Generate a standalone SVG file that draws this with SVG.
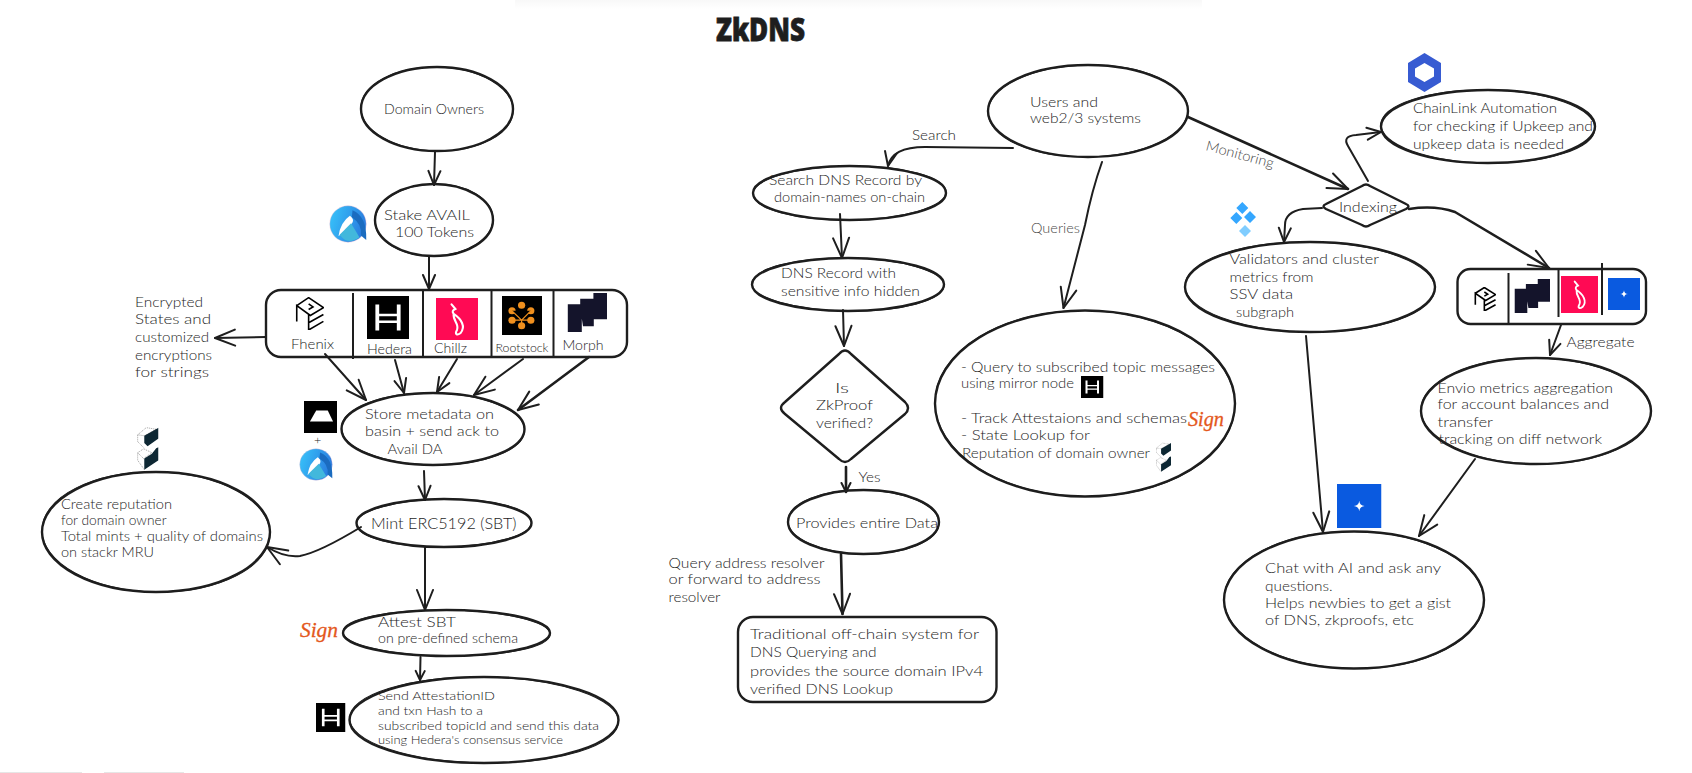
<svg xmlns="http://www.w3.org/2000/svg" width="1692" height="773" viewBox="0 0 1692 773">
<style>
text{font-family:"Lato","Noto Sans",sans-serif;font-weight:300;fill:#1e1e1e}
.title{font-family:"Open Sans","Liberation Sans",sans-serif;font-weight:800;font-size:32px;fill:#1e1e1e;stroke:#1e1e1e;stroke-width:.8}
.f11{font-size:11px}.f12{font-size:12.5px}.f13{font-size:13px}.f14{font-size:14px}.f15{font-size:15px}
.mut{fill:#4a4a4a}
.sign{font-family:"Liberation Serif",serif;font-style:italic;font-weight:400;fill:#e4581c;stroke:#e4581c;stroke-width:.3}
.s{fill:none;stroke:#1e1e1e;stroke-width:2.4;stroke-linejoin:round}
.r{fill:none;stroke:#1e1e1e;stroke-width:1}
.div{fill:none;stroke:#1e1e1e;stroke-width:2}
.c{fill:none;stroke:#1e1e1e;stroke-width:2;stroke-linecap:round;stroke-linejoin:round}
.cb{stroke-width:2.6}
.ah{fill:none;stroke:#1e1e1e;stroke-width:2;stroke-linecap:round;stroke-linejoin:round}
</style>
<defs>
<linearGradient id="shade" x1="0" y1="0" x2="0" y2="1"><stop offset="0" stop-color="#f8f8f8"/><stop offset="1" stop-color="#ffffff"/></linearGradient>
<linearGradient id="availg" x1="0" y1="0" x2="1" y2="0.3"><stop offset="0" stop-color="#38c6fb"/><stop offset="1" stop-color="#2a7fe0"/></linearGradient>
<marker id="as" markerUnits="userSpaceOnUse" viewBox="-11 -6 12 12" markerWidth="12" markerHeight="12" refX="0" refY="0" orient="auto"><path class="ah" d="M-9-4.5L0 0L-9 4.500"/></marker>
<marker id="am" markerUnits="userSpaceOnUse" viewBox="-16 -8 17 16" markerWidth="17" markerHeight="16" refX="0" refY="0" orient="auto"><path class="ah" d="M-14-6L0 0L-14 6"/></marker>
<marker id="al" markerUnits="userSpaceOnUse" viewBox="-22 -10 23 20" markerWidth="23" markerHeight="20" refX="0" refY="0" orient="auto"><path class="ah" d="M-20-8L0 0L-20 8"/></marker>
<symbol id="hedera" viewBox="0 0 100 100" preserveAspectRatio="none"><rect width="100" height="100" fill="#000"/><path fill="#fff" d="M20 20h9v60h-9zM71 20h9v60h-9zM29 41h42v6H29zM29 57h42v6H29z"/></symbol>
<symbol id="fhenix" viewBox="0 0 100 100" preserveAspectRatio="none"><path fill="none" stroke="#000" stroke-width="1.6" vector-effect="non-scaling-stroke" d="M6 26L47 2L98 32L53 56L6 26V74M47 21L62 30L47 38M47 52V100L98 74M47 78L98 53"/></symbol>
<symbol id="chillz" viewBox="0 0 100 100" preserveAspectRatio="none"><rect width="100" height="100" fill="#ff0a54"/><path fill="none" stroke="#fff" stroke-width="5" stroke-linecap="round" d="M37 15L46 26Q36 30 42 38C60 50 72 68 58 84C50 90 44 86 50 76C56 62 40 55 42 38"/></symbol>
<symbol id="rootstock" viewBox="0 0 100 100" preserveAspectRatio="none"><rect width="100" height="100" fill="#000"/><g fill="#f0901e"><circle cx="49" cy="24" r="9"/><circle cx="25" cy="38" r="9"/><circle cx="72" cy="38" r="9"/><circle cx="25" cy="62" r="9"/><circle cx="72" cy="62" r="9"/><circle cx="49" cy="76" r="9"/><path d="M38 40H60L49 62z"/></g><path stroke="#f0901e" stroke-width="3" d="M25 38L49 62L72 38M25 62H72M49 62V76"/></symbol>
<symbol id="morph" viewBox="0 0 100 100" preserveAspectRatio="none"><path fill="#14142b" d="M2 29H37V100H2zM33 15H67V85H40L33 40zM66 0H100V67H66z"/></symbol>
<symbol id="spark" viewBox="0 0 100 100" preserveAspectRatio="none"><rect width="100" height="100" fill="#0a5ae0"/><path fill="#fff" d="M50 38Q51 49 62 50Q51 51 50 62Q49 51 38 50Q49 49 50 38z"/></symbol>
<symbol id="basin" viewBox="0 0 100 100" preserveAspectRatio="none"><rect width="100" height="100" fill="#000"/><path fill="#fff" d="M18 64L37 30H72L88 64z"/></symbol>
<symbol id="avail" viewBox="0 0 100 100" preserveAspectRatio="none"><circle cx="50" cy="50" r="48" fill="url(#availg)" stroke="#f4bcd0" stroke-width="1"/><path fill="#fff" d="M55 28Q30 45 25 82Q40 70 58 52Q70 38 55 28z"/><path fill="#1b6cc0" d="M62 14Q100 30 98 92L84 80Q88 50 60 32z"/><path fill="#42b8dc" d="M28 78L58 48L80 85Q50 108 28 78z"/></symbol>
<symbol id="stackr" viewBox="0 0 65 135" preserveAspectRatio="none"><path fill="#0d2733" d="M22 30L65 5V38L32 62L22 52zM58 68L65 65V105L22 134V100L45 85z"/><path fill="none" stroke="#333" stroke-width="1.4" stroke-dasharray="3 3" d="M2 27L28 5L58 10L22 30L2 27M2 27V48L22 68M2 82L20 70L45 82L20 100L2 82V105L22 134"/></symbol>
</defs>
<rect width="1692" height="773" fill="#fff"/>
<rect x="515" y="0" width="687" height="9" fill="url(#shade)"/>
<rect x="0" y="772" width="82" height="1" fill="#e6e6e6"/><rect x="104" y="772" width="80" height="1" fill="#e6e6e6"/>
<text id="title" class="title" x="716" y="41" textLength="89" lengthAdjust="spacingAndGlyphs">ZkDNS</text>

<g id="connectors">
<path class="c" marker-end="url(#am)" d="M435 152L434 185"/>
<path class="c" marker-end="url(#am)" d="M429 257L429 289"/>
<path class="c" marker-end="url(#al)" d="M266 337L215 338"/>
<path class="c" marker-end="url(#al)" d="M325 354L366 400"/>
<path class="c" marker-end="url(#am)" d="M395 360L404 393"/>
<path class="c" marker-end="url(#am)" d="M457 359L437 392"/>
<path class="c" marker-end="url(#al)" d="M523 359L474 395"/>
<path class="c cb" marker-end="url(#al)" d="M589 357L518 410"/>
<path class="c" marker-end="url(#am)" d="M424 471L425 500"/>
<path class="c" marker-end="url(#al)" d="M361 527Q320 552 300 556Q285 558 267 547"/>
<path class="c" marker-end="url(#al)" d="M425 547L425 610"/>
<path class="c" marker-end="url(#as)" d="M420.500 657L420 680"/>
<path class="c" marker-end="url(#am)" d="M1013 148L925 147Q892 147 888 166"/>
<path class="c" marker-end="url(#al)" d="M840 214L842 258"/>
<path class="c" marker-end="url(#al)" d="M843 310L844 346"/>
<path class="c cb" marker-end="url(#as)" d="M846 467L846 492"/>
<path class="c cb" marker-end="url(#al)" d="M841 554L842.500 614"/>
<path class="c" marker-end="url(#al)" d="M1102 162Q1092 190 1085 225L1063.500 308"/>
<path class="c cb" marker-end="url(#al)" d="M1188 117L1348 189"/>
<path class="c" marker-end="url(#am)" d="M1368 181L1348 146Q1342 136 1356 135L1381 132"/>
<path class="c" marker-end="url(#am)" d="M1322 208L1303 209Q1285 212 1285 225L1284 242"/>
<path class="c cb" marker-end="url(#al)" d="M1409 209Q1435 205 1455 212L1549 268"/>
<path class="c" marker-end="url(#am)" d="M1561 325L1550 355"/>
<path class="c" marker-end="url(#al)" d="M1306 336L1323 532"/>
<path class="c" marker-end="url(#al)" d="M1475 459L1419 536"/>
</g>
<text class="f14" x="912" y="140" textLength="44" lengthAdjust="spacingAndGlyphs">Search</text>
<text class="f14 mut" x="1031" y="233" textLength="49" lengthAdjust="spacingAndGlyphs">Queries</text>
<text class="f14 mut" x="1205" y="150" textLength="70" lengthAdjust="spacingAndGlyphs" transform="rotate(15 1205 150)">Monitoring</text>
<text class="f14" x="858.500" y="482" textLength="22" lengthAdjust="spacingAndGlyphs">Yes</text>
<text class="f14" x="1566.500" y="347" textLength="68" lengthAdjust="spacingAndGlyphs">Aggregate</text>
<g id="label-query-resolver" class="f14">
<text x="668.500" y="568" textLength="156" lengthAdjust="spacingAndGlyphs">Query address resolver</text>
<text x="668.500" y="584" textLength="152" lengthAdjust="spacingAndGlyphs">or forward to address</text>
<text x="668.500" y="602" textLength="52" lengthAdjust="spacingAndGlyphs">resolver</text>
</g>
<g id="label-encrypted" class="f14">
<text x="135" y="307" textLength="68" lengthAdjust="spacingAndGlyphs">Encrypted</text>
<text x="135" y="324" textLength="76" lengthAdjust="spacingAndGlyphs">States and</text>
<text x="135" y="342" textLength="74" lengthAdjust="spacingAndGlyphs">customized</text>
<text x="135" y="360" textLength="77" lengthAdjust="spacingAndGlyphs">encryptions</text>
<text x="135" y="377" textLength="74" lengthAdjust="spacingAndGlyphs">for strings</text>
</g>

<g id="n-domain"><ellipse class="s" cx="437" cy="109" rx="76" ry="42"/><ellipse class="r" cx="437" cy="109" rx="76" ry="42" transform="rotate(1.5 437 109)"/>
<text class="f14" x="384" y="114" textLength="100" lengthAdjust="spacingAndGlyphs">Domain Owners</text></g>

<g id="n-stake"><ellipse class="s" cx="434" cy="220" rx="59" ry="36"/><ellipse class="r" cx="434" cy="220" rx="59" ry="36" transform="rotate(-2 434 220)"/>
<text class="f14" x="384" y="220" textLength="86" lengthAdjust="spacingAndGlyphs">Stake AVAIL</text>
<text class="f14" x="395" y="237" textLength="79" lengthAdjust="spacingAndGlyphs">100 Tokens</text>
<use href="#avail" x="329" y="205" width="38" height="38"/></g>

<g id="n-chains"><rect class="s" x="266" y="290" width="361" height="67" rx="15"/>
<path class="div" d="M353 293V359M423 290V357M491.500 290V357M553.500 290V357"/>
<use href="#fhenix" x="295" y="297" width="29" height="33"/>
<use href="#hedera" x="367" y="296" width="42" height="43"/>
<use href="#chillz" x="436" y="298" width="42" height="42"/>
<use href="#rootstock" x="502" y="296" width="40" height="39"/>
<use href="#morph" x="567" y="293" width="40" height="39"/>
<text class="f14" x="291" y="349" textLength="43" lengthAdjust="spacingAndGlyphs">Fhenix</text>
<text class="f14" x="367" y="354" textLength="45" lengthAdjust="spacingAndGlyphs">Hedera</text>
<text class="f14" x="434" y="353" textLength="33" lengthAdjust="spacingAndGlyphs">Chillz</text>
<text class="f11" x="495.500" y="352" textLength="53" lengthAdjust="spacingAndGlyphs">Rootstock</text>
<text class="f14" x="562.500" y="350" textLength="41" lengthAdjust="spacingAndGlyphs">Morph</text></g>

<g id="n-store"><ellipse class="s" cx="433" cy="429" rx="91.500" ry="36"/><ellipse class="r" cx="433" cy="429" rx="91.500" ry="36" transform="rotate(1 433 429)"/>
<text class="f14" x="365" y="419" textLength="129" lengthAdjust="spacingAndGlyphs">Store metadata on</text>
<text class="f14" x="365" y="436" textLength="134" lengthAdjust="spacingAndGlyphs">basin + send ack to</text>
<text class="f14" x="387.500" y="454" textLength="55" lengthAdjust="spacingAndGlyphs">Avail DA</text>
<use href="#basin" x="304" y="401" width="33" height="32"/>
<text class="f12" x="314" y="444">+</text>
<use href="#avail" x="299" y="448" width="34" height="33"/></g>

<g id="n-reputation"><ellipse class="s" cx="156" cy="532" rx="114" ry="60"/><ellipse class="r" cx="156" cy="532" rx="114" ry="60" transform="rotate(1.2 156 532)"/>
<text class="f13" x="61" y="509" textLength="111" lengthAdjust="spacingAndGlyphs">Create reputation</text>
<text class="f13" x="61" y="525" textLength="105.500" lengthAdjust="spacingAndGlyphs">for domain owner</text>
<text class="f13" x="61" y="541" textLength="202" lengthAdjust="spacingAndGlyphs">Total mints + quality of domains</text>
<text class="f13" x="61" y="557" textLength="93" lengthAdjust="spacingAndGlyphs">on stackr MRU</text>
<use href="#stackr" x="137" y="426" width="21.500" height="44"/></g>

<g id="n-mint"><ellipse class="s" cx="444" cy="523" rx="87.500" ry="24"/><ellipse class="r" cx="444" cy="523" rx="87.500" ry="24" transform="rotate(-.8 444 523)"/>
<text class="f15" x="371" y="529" textLength="145.500" lengthAdjust="spacingAndGlyphs">Mint ERC5192 (SBT)</text></g>

<g id="n-attest"><ellipse class="s" cx="446.500" cy="633" rx="103.500" ry="23"/><ellipse class="r" cx="446.500" cy="633" rx="103.500" ry="23" transform="rotate(.8 446.500 633)"/>
<text class="f13" x="378" y="627" textLength="78" lengthAdjust="spacingAndGlyphs">Attest SBT</text>
<text class="f13" x="378" y="643" textLength="140" lengthAdjust="spacingAndGlyphs">on pre-defined schema</text>
<text class="sign" x="300" y="637" font-size="22" textLength="38" lengthAdjust="spacingAndGlyphs">Sign</text></g>

<g id="n-send"><ellipse class="s" cx="484" cy="720" rx="134.500" ry="43"/><ellipse class="r" cx="484" cy="720" rx="134.500" ry="43" transform="rotate(.8 484 720)"/>
<text class="f12" x="378" y="700" textLength="117" lengthAdjust="spacingAndGlyphs">Send AttestationID</text>
<text class="f12" x="378" y="715" textLength="105" lengthAdjust="spacingAndGlyphs">and txn Hash to a</text>
<text class="f12" x="378" y="730" textLength="221" lengthAdjust="spacingAndGlyphs">subscribed topicId and send this data</text>
<text class="f12" x="378" y="744" textLength="185" lengthAdjust="spacingAndGlyphs">using Hedera's consensus service</text>
<use href="#hedera" x="316" y="703" width="29.500" height="29"/></g>

<g id="n-users"><ellipse class="s" cx="1088" cy="111" rx="100" ry="46"/><ellipse class="r" cx="1088" cy="111" rx="100" ry="46" transform="rotate(-1 1088 111)"/>
<text class="f14" x="1030" y="107" textLength="68" lengthAdjust="spacingAndGlyphs">Users and</text>
<text class="f14" x="1030" y="123" textLength="111" lengthAdjust="spacingAndGlyphs">web2/3 systems</text></g>

<g id="n-search"><ellipse class="s" cx="849.500" cy="193" rx="96.500" ry="27"/><ellipse class="r" cx="849.500" cy="193" rx="96.500" ry="27" transform="rotate(-.8 849.500 193)"/>
<text class="f14" x="769" y="185" textLength="153" lengthAdjust="spacingAndGlyphs">Search DNS Record by</text>
<text class="f14" x="774" y="202" textLength="151" lengthAdjust="spacingAndGlyphs">domain-names on-chain</text></g>

<g id="n-record"><ellipse class="s" cx="848" cy="284.500" rx="96" ry="26.500"/><ellipse class="r" cx="848" cy="284.500" rx="96" ry="26.500" transform="rotate(.8 848 284.500)"/>
<text class="f14" x="781" y="278" textLength="115" lengthAdjust="spacingAndGlyphs">DNS Record with</text>
<text class="f14" x="781" y="296" textLength="139" lengthAdjust="spacingAndGlyphs">sensitive info hidden</text></g>

<g id="n-zkproof"><path class="s" d="M839 354Q845 347 851 354L905 402Q911 408 905 414L851 459Q845 465 839 459L785 414Q777 408 785 402Z"/>
<text class="f14" x="835" y="393" textLength="14" lengthAdjust="spacingAndGlyphs">Is</text>
<text class="f14" x="816" y="410" textLength="57" lengthAdjust="spacingAndGlyphs">ZkProof</text>
<text class="f14" x="816" y="428" textLength="57" lengthAdjust="spacingAndGlyphs">verified?</text></g>

<g id="n-provides"><ellipse class="s" cx="863.500" cy="522" rx="75.500" ry="32"/><ellipse class="r" cx="863.500" cy="522" rx="75.500" ry="32" transform="rotate(1.2 863.500 522)"/>
<text class="f14" x="796" y="528" textLength="142" lengthAdjust="spacingAndGlyphs">Provides entire Data</text></g>

<g id="n-traditional"><rect class="s" x="738" y="617" width="258.500" height="85" rx="15"/>
<text class="f14" x="750" y="639" textLength="229" lengthAdjust="spacingAndGlyphs">Traditional off-chain system for</text>
<text class="f14" x="750" y="657" textLength="126.500" lengthAdjust="spacingAndGlyphs">DNS Querying and</text>
<text class="f14" x="750" y="676" textLength="233" lengthAdjust="spacingAndGlyphs">provides the source domain IPv4</text>
<text class="f14" x="750" y="694" textLength="143" lengthAdjust="spacingAndGlyphs">verified DNS Lookup</text></g>

<g id="n-queries"><ellipse class="s" cx="1085" cy="403.500" rx="150" ry="93"/><ellipse class="r" cx="1085" cy="403.500" rx="150" ry="93" transform="rotate(.8 1085 403.500)"/>
<text class="f14" x="961" y="372" textLength="254" lengthAdjust="spacingAndGlyphs">- Query to subscribed topic messages</text>
<text class="f14" x="961" y="388" textLength="113" lengthAdjust="spacingAndGlyphs">using mirror node</text>
<use href="#hedera" x="1081" y="376" width="22.500" height="22"/>
<text class="f14" x="961" y="423" textLength="226" lengthAdjust="spacingAndGlyphs">- Track Attestaions and schemas</text>
<text class="sign" x="1188" y="426" font-size="21" textLength="36" lengthAdjust="spacingAndGlyphs">Sign</text>
<text class="f14" x="961" y="440" textLength="129" lengthAdjust="spacingAndGlyphs">- State Lookup for</text>
<text class="f14" x="962" y="458" textLength="188" lengthAdjust="spacingAndGlyphs">Reputation of domain owner</text>
<use href="#stackr" x="1156" y="442" width="15" height="30"/></g>

<g id="n-chainlink"><ellipse class="s" cx="1488" cy="126.500" rx="107" ry="36.500"/><ellipse class="r" cx="1488" cy="126.500" rx="107" ry="36.500" transform="rotate(1 1488 126.500)"/>
<path fill="#375bd2" fill-rule="evenodd" d="M1424.500 53L1441 63V82L1424.500 92L1408 82V63ZM1424.500 63L1415 68.500V76.500L1424.500 82L1434 76.500V68.500Z"/>
<text class="f14" x="1413" y="113" textLength="144" lengthAdjust="spacingAndGlyphs">ChainLink Automation</text>
<text class="f14" x="1413" y="131" textLength="180" lengthAdjust="spacingAndGlyphs">for checking if Upkeep and</text>
<text class="f14" x="1413" y="149" textLength="151" lengthAdjust="spacingAndGlyphs">upkeep data is needed</text></g>

<g id="n-indexing"><path class="s" d="M1362 186Q1366 183 1370 186L1406 204Q1411 206 1406 209L1370 225Q1366 228 1362 225L1326 209Q1321 206 1326 204Z"/>
<text class="f14" x="1339" y="212" textLength="58" lengthAdjust="spacingAndGlyphs">Indexing</text></g>

<g id="n-validators"><ellipse class="s" cx="1310" cy="287" rx="125" ry="45"/><ellipse class="r" cx="1310" cy="287" rx="125" ry="45" transform="rotate(.8 1310 287)"/>
<path fill="#35a7ff" d="M1242.300 202L1248.300 208L1242.300 214L1236.300 208ZM1250 211L1256 217L1250 223L1244 217ZM1236.300 212L1242.300 218L1236.300 224L1230.300 218Z"/>
<path fill="#80cdff" d="M1245 225L1251 231L1245 237L1239 231Z"/>
<text class="f14" x="1229.500" y="264" textLength="149.500" lengthAdjust="spacingAndGlyphs">Validators and cluster</text>
<text class="f14" x="1229.500" y="282" textLength="84" lengthAdjust="spacingAndGlyphs">metrics from</text>
<text class="f14" x="1229.500" y="299" textLength="63.500" lengthAdjust="spacingAndGlyphs">SSV data</text>
<text class="f14" x="1236" y="317" textLength="58" lengthAdjust="spacingAndGlyphs">subgraph</text></g>

<g id="n-networks"><rect class="s" x="1457.500" y="269" width="188.500" height="55" rx="13"/>
<path class="div" d="M1508.500 273V323M1558.500 268V317M1602 263V315"/>
<use href="#fhenix" x="1474" y="287" width="22" height="24"/>
<use href="#morph" x="1514" y="279" width="36" height="34"/>
<use href="#chillz" x="1561" y="276" width="37" height="37"/>
<use href="#spark" x="1608" y="278" width="32" height="32"/></g>

<g id="n-envio"><ellipse class="s" cx="1536" cy="411" rx="115" ry="53"/><ellipse class="r" cx="1536" cy="411" rx="115" ry="53" transform="rotate(1 1536 411)"/>
<text class="f14" x="1437.500" y="393" textLength="175.500" lengthAdjust="spacingAndGlyphs">Envio metrics aggregation</text>
<text class="f14" x="1437.500" y="409" textLength="171.500" lengthAdjust="spacingAndGlyphs">for account balances and</text>
<text class="f14" x="1437.500" y="427" textLength="55.500" lengthAdjust="spacingAndGlyphs">transfer</text>
<text class="f14" x="1438.500" y="444" textLength="163.500" lengthAdjust="spacingAndGlyphs">tracking on diff network</text></g>

<g id="n-chat"><ellipse class="s" cx="1354" cy="600" rx="130" ry="68.500"/><ellipse class="r" cx="1354" cy="600" rx="130" ry="68.500" transform="rotate(.8 1354 600)"/>
<use href="#spark" x="1337" y="484" width="44.500" height="44"/>
<text class="f14" x="1265" y="573" textLength="176" lengthAdjust="spacingAndGlyphs">Chat with AI and ask any</text>
<text class="f14" x="1265" y="591" textLength="67.500" lengthAdjust="spacingAndGlyphs">questions.</text>
<text class="f14" x="1265" y="608" textLength="186" lengthAdjust="spacingAndGlyphs">Helps newbies to get a gist</text>
<text class="f14" x="1265" y="625" textLength="149" lengthAdjust="spacingAndGlyphs">of DNS, zkproofs, etc</text></g>
</svg>
